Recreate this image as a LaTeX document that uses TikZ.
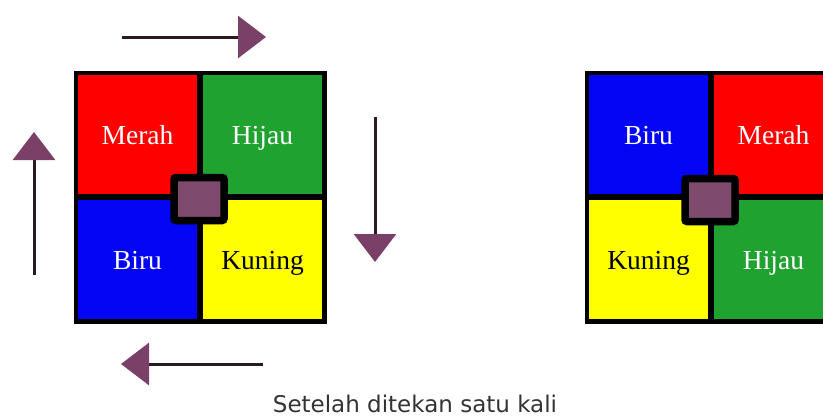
\documentclass[tikz,border=0pt]{standalone}
\usepackage{fontspec}
\setmainfont{Liberation Serif}
\newfontfamily\capfont{DejaVu Sans}
\usetikzlibrary{arrows.meta}
\definecolor{cred}{HTML}{FF0000}
\definecolor{cgreen}{HTML}{1FA22F}
\definecolor{cblue}{HTML}{0505F5}
\definecolor{cyellow}{HTML}{FFFF00}
\definecolor{cpurple}{HTML}{7E4A6D}
\definecolor{headpurple}{HTML}{7A4068}
\definecolor{shaft}{HTML}{2A1A25}
\definecolor{captxt}{HTML}{333333}
\tikzset{
  cell/.style={draw=black, line width=3pt, minimum width=122pt, minimum height=122pt,
    inner sep=0pt, font=\fontsize{27.5}{32}\selectfont, text=white,
    text height=22pt, text depth=3pt},
  knob/.style={draw=black, fill=cpurple, line width=7.5pt, rounded corners=2pt,
    minimum width=50pt, minimum height=43pt, inner sep=0pt},
  frame/.style={draw=black, line width=3pt},
  bigarrow/.style={draw=shaft, line width=3pt,
    -{Triangle[length=28pt,width=42pt,color=headpurple,fill=headpurple]}},
}
\begin{document}
\begin{tikzpicture}[x=1pt,y=-1pt]
\useasboundingbox (0,0) rectangle (823,418);
\clip (0,0) rectangle (823,418);
% left grid
\node[cell, fill=cred] (lm) at (137.5,134.5) {Merah};
\node[cell, fill=cgreen] (lh) at (262.5,134.5) {Hijau};
\node[cell, fill=cblue] (lb) at (137.5,259.5) {Biru};
\node[cell, fill=cyellow, text=black] (lk) at (262.5,259.5) {Kuning};
\draw[frame] (lm.north west) rectangle (lk.south east);
\node[knob] (lc) at (199,199) {};
% right grid
\node[cell, fill=cblue] (rb) at (648.5,134.5) {Biru};
\node[cell, fill=cred] (rm) at (773.5,134.5) {Merah};
\node[cell, fill=cyellow, text=black] (rk) at (648.5,259.5) {Kuning};
\node[cell, fill=cgreen] (rh) at (773.5,259.5) {Hijau};
\draw[frame] (rb.north west) rectangle (rh.south east);
\node[knob] (rc) at (710,200) {};
% arrows
\coordinate (t1) at (122,37); \coordinate (t2) at (266,37);
\coordinate (r1) at (375,117); \coordinate (r2) at (375,262);
\coordinate (b1) at (263,364); \coordinate (b2) at (121,364);
\coordinate (l1) at (34,275); \coordinate (l2) at (34,132);
\draw[bigarrow] (t1) -- (t2);
\draw[bigarrow] (r1) -- (r2);
\draw[bigarrow] (b1) -- (b2);
\draw[bigarrow] (l1) -- (l2);
% caption
\node[font=\capfont\fontsize{23}{28}\selectfont, text=captxt] (cap) at (415,404) {Setelah ditekan satu kali};
\end{tikzpicture}
\end{document}
